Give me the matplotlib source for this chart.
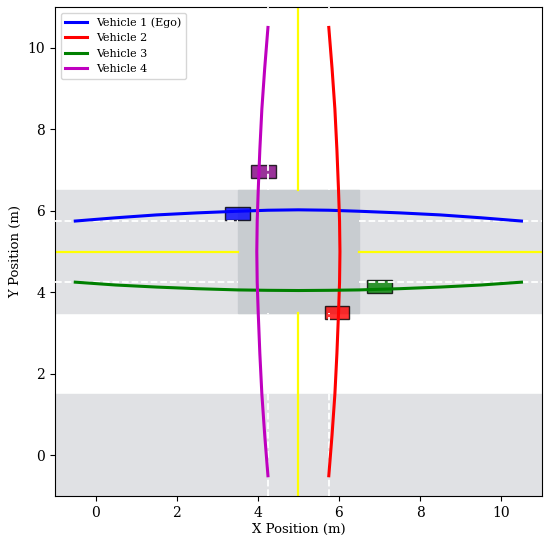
import matplotlib.pyplot as plt
from matplotlib.patches import Rectangle

plt.rcParams['font.family'] = 'DejaVu Serif'

# trajectories
t = [-0.5, 0.5, 1.5, 2.5, 3.5, 4.25, 5.0, 5.75, 6.5, 7.5, 8.5, 9.5, 10.5]
v1_y = [5.75, 5.83, 5.90, 5.95, 5.99, 6.015, 6.025, 6.015, 5.99, 5.95, 5.90, 5.83, 5.75]
v3_y = [4.25, 4.18, 4.13, 4.09, 4.06, 4.05, 4.045, 4.05, 4.06, 4.09, 4.13, 4.18, 4.25]
v2_x = [5.75, 5.83, 5.90, 5.95, 5.99, 6.015, 6.025, 6.015, 5.99, 5.95, 5.90, 5.83, 5.75]
v4_x = [4.25, 4.17, 4.10, 4.05, 4.01, 3.985, 3.975, 3.985, 4.01, 4.05, 4.10, 4.17, 4.25]

names = ["Vehicle 1 (Ego)", "Vehicle 2", "Vehicle 3", "Vehicle 4"]
colors = ["blue", "red", "green", "m"]
box_colors = ["blue", "red", "green", "purple"]
# current vehicle positions (centres)
veh_x = [3.5, 5.95, 7.0, 4.14]
veh_y = [5.94, 3.5, 4.14, 6.97]
veh_w = 0.6
veh_h = 0.32

fig = plt.figure(figsize=(5.5, 5.44), dpi=100)
ax = fig.add_axes([0.1, 0.088, 0.885, 0.899])

# roads
ax.add_patch(Rectangle((-1, 3.5), 12, 3, color='#e0e1e4', zorder=0))
ax.add_patch(Rectangle((-1, -1), 12, 2.5, color='#e0e1e4', zorder=0))
ax.add_patch(Rectangle((3.5, 3.5), 3, 3, color='#c8ccd0', zorder=0.5))

# centre lines
ax.plot([-1, 3.5], [5, 5], color='yellow', lw=1.6, zorder=1)
ax.plot([6.5, 11], [5, 5], color='yellow', lw=1.6, zorder=1)
ax.plot([5, 5], [-1, 3.5], color='yellow', lw=1.6, zorder=1)
ax.plot([5, 5], [6.5, 11], color='yellow', lw=1.6, zorder=1)

# vehicles
for i in range(4):
    ax.add_patch(Rectangle((veh_x[i] - veh_w / 2, veh_y[i] - veh_h / 2), veh_w, veh_h,
                           facecolor=box_colors[i], alpha=0.8, edgecolor='black',
                           lw=1.0, zorder=2))

# lane lines
for lane in [4.25, 5.75]:
    ax.plot([-1, 3.5], [lane, lane], color='white', ls='--', lw=1.3, zorder=3)
    ax.plot([6.5, 11], [lane, lane], color='white', ls='--', lw=1.3, zorder=3)
    ax.plot([lane, lane], [-1, 3.5], color='white', ls='--', lw=1.3, zorder=3)
    ax.plot([lane, lane], [6.5, 11], color='white', ls='--', lw=1.3, zorder=3)

ax.plot(t, v1_y, color=colors[0], lw=2.2, label=names[0], zorder=4)
ax.plot(v2_x, t, color=colors[1], lw=2.2, label=names[1], zorder=4)
ax.plot(t, v3_y, color=colors[2], lw=2.2, label=names[2], zorder=4)
ax.plot(v4_x, t, color=colors[3], lw=2.2, label=names[3], zorder=4)

ax.set_xlim(-1, 11)
ax.set_ylim(-1, 11)
ax.set_xticks([0, 2, 4, 6, 8, 10])
ax.set_yticks([0, 2, 4, 6, 8, 10])
ax.tick_params(labelsize=10)
ax.set_xlabel("X Position (m)", fontsize=9.5, labelpad=2)
ax.set_ylabel("Y Position (m)", fontsize=9.5, labelpad=4)
ax.legend(loc='upper left', fontsize=8)

plt.savefig("out.png")
